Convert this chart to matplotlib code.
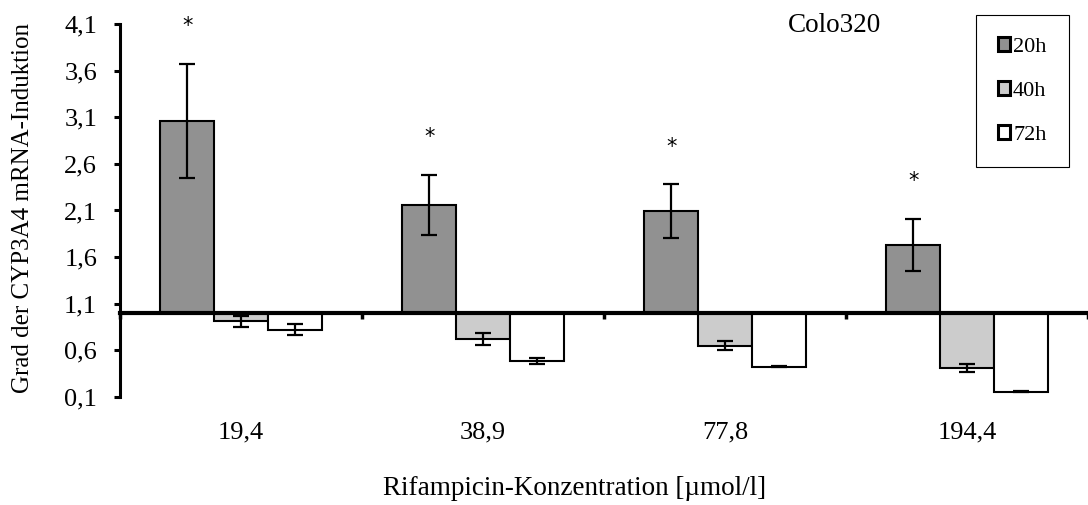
import numpy as np
import matplotlib.pyplot as plt
from matplotlib.patches import Patch
from matplotlib.ticker import FixedLocator, FuncFormatter

plt.rcParams['font.family'] = ['Liberation Serif', 'DejaVu Serif']

concentrations = ['19,4', '38,9', '77,8', '194,4']
series = ['20h', '40h', '72h']
colors = ['#919191', '#cccccc', '#ffffff']

# mean fold induction relative to control (=1) and its error
values = {
    '20h': [3.06, 2.16, 2.09, 1.73],
    '40h': [0.91, 0.725, 0.65, 0.41],
    '72h': [0.82, 0.485, 0.425, 0.155],
}
errors = {
    '20h': [0.61, 0.32, 0.29, 0.28],
    '40h': [0.06, 0.065, 0.05, 0.04],
    '72h': [0.06, 0.035, 0.005, 0.005],
}
significant = [True, True, True, True]

baseline = 1.0
yticks = [0.1, 0.6, 1.1, 1.6, 2.1, 2.6, 3.1, 3.6, 4.1]


def main():
    fig = plt.figure(figsize=(10.88, 5.05), dpi=100)
    ax = fig.add_axes([0.1103, 0.2139, 0.8897, 0.7386])

    x = np.arange(len(concentrations)) + 0.5
    w = 0.222
    for i, s in enumerate(series):
        v = np.array(values[s])
        ax.bar(x + (i - 1) * w, v - baseline, w, bottom=baseline,
               color=colors[i], edgecolor='black', linewidth=1.5, zorder=2)
        ax.errorbar(x + (i - 1) * w, v, yerr=errors[s], fmt='none',
                    ecolor='black', elinewidth=1.6, capsize=5.5,
                    capthick=1.6, zorder=3)

    # asterisks above the 20h error bars
    top = np.array(values['20h']) + np.array(errors['20h'])
    for xi, t, sig in zip(x - w, top, significant):
        if sig:
            ax.annotate('*', (xi, t), xytext=(0, 20), textcoords='offset points',
                        ha='center', va='bottom', fontsize=15,
                        family='DejaVu Sans')

    ax.set_xlim(0, len(concentrations))
    ax.set_ylim(0.1, 4.1)

    ax.spines['top'].set_visible(False)
    ax.spines['right'].set_visible(False)
    ax.spines['left'].set_linewidth(2.2)
    ax.spines['bottom'].set_position(('data', baseline))
    ax.spines['bottom'].set_linewidth(3)
    ax.spines['bottom'].set_zorder(4)

    ax.yaxis.set_major_locator(FixedLocator(yticks))
    ax.yaxis.set_major_formatter(FuncFormatter(lambda v, p: f'{v:.1f}'.replace('.', ',')))
    ax.tick_params(axis='y', direction='out', length=4.5, width=2.2,
                   labelsize=19, pad=12)
    ax.set_xticks(np.arange(len(concentrations) + 1))
    ax.tick_params(axis='x', direction='out', length=4, width=2.5,
                   labelbottom=False)

    for xi, c in zip(x, concentrations):
        ax.text(xi, -0.095, c, transform=ax.get_xaxis_transform(),
                ha='center', va='center', fontsize=19)

    fig.text(0.5285, 0.032, 'Rifampicin-Konzentration [µmol/l]',
             ha='center', va='center', fontsize=19.5)
    fig.text(0.021, 0.588, 'Grad der CYP3A4 mRNA-Induktion', rotation=90,
             ha='center', va='center', fontsize=18)
    fig.text(0.767, 0.95, 'Colo320', ha='center', va='center', fontsize=19.5)

    handles = [Patch(facecolor=c, edgecolor='black', linewidth=2.2) for c in colors]
    leg = ax.legend(handles, series, loc='upper left',
                    bbox_to_anchor=(976 / 1088, 1 - 15 / 505),
                    bbox_transform=fig.transFigure, fontsize=16,
                    handlelength=0.55, handleheight=0.55, handletextpad=0.12,
                    labelspacing=1.1, borderpad=1.0, borderaxespad=0,
                    fancybox=False, framealpha=1)
    leg.get_frame().set_edgecolor('black')
    leg.get_frame().set_linewidth(0.8)

    fig.savefig('out.png', dpi=100)


if __name__ == '__main__':
    main()
